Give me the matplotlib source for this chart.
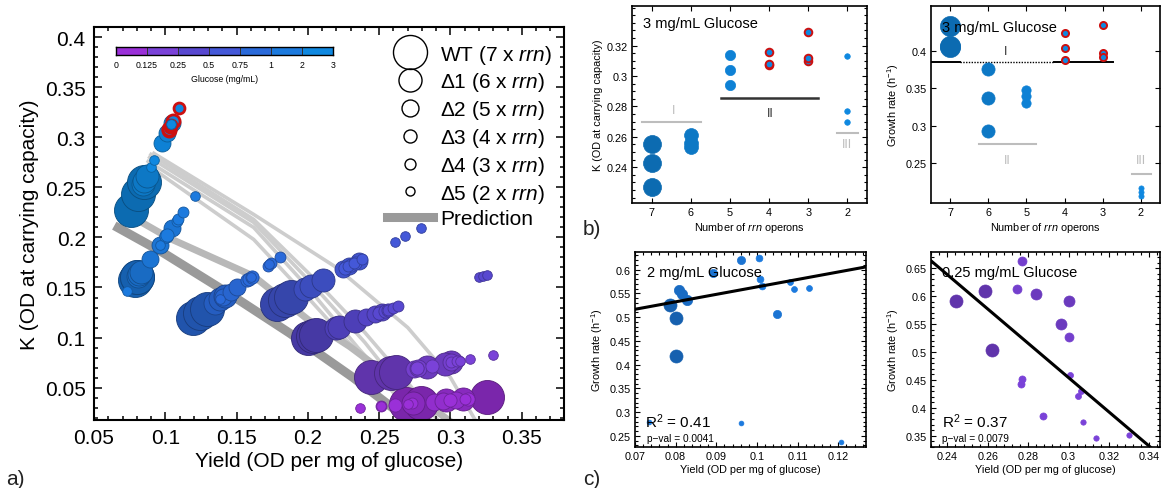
import numpy as np
import matplotlib
matplotlib.use("Agg")
import matplotlib.pyplot as plt
from matplotlib.lines import Line2D
from matplotlib.colors import to_rgb, ListedColormap
from matplotlib.ticker import MultipleLocator

plt.rcParams["font.family"] = ["Liberation Sans", "DejaVu Sans"]
plt.rcParams["mathtext.fontset"] = "custom"
plt.rcParams["mathtext.rm"] = "Liberation Sans"
plt.rcParams["mathtext.it"] = "Liberation Sans:italic"
plt.rcParams["mathtext.bf"] = "Liberation Sans:bold"

# ---------------------------------------------------------------- data
strains = ["WT", "Δ1", "Δ2", "Δ3", "Δ4", "Δ5"]
rrn_copies = [7, 6, 5, 4, 3, 2]
glucose_levels = [0.125, 0.25, 0.5, 0.75, 1, 2, 3]
glucose_tick_labels = ["0", "0.125", "0.25", "0.5", "0.75", "1", "2", "3"]
glucose_colors = ["#9a30d8", "#7a42d8", "#5848d0", "#4458d8",
                  "#2a6ada", "#1c7ade", "#0f88e0"]

# yield (OD per mg glucose), rows = strains WT..Δ5, 3 replicates each
yield_g0125 = [[0.2685, 0.2795, 0.3255], [0.2740, 0.2970, 0.3087],
               [0.2881, 0.2947, 0.3040], [0.2608, 0.3000, 0.3122],
               [0.2515, 0.2732, 0.3099], [0.2363, 0.2515, 0.2700]]
yield_g025 = [[0.2441, 0.2586, 0.2619], [0.2837, 0.3002, 0.2961],
              [0.2747, 0.2769, 0.3004], [0.2763, 0.2768, 0.2872],
              [0.3007, 0.3060, 0.3049], [0.3070, 0.3134, 0.3301]]
yield_g05 = [[0.2000, 0.2035, 0.2060], [0.2200, 0.2215, 0.2330],
             [0.2410, 0.2470, 0.2520], [0.2500, 0.2540, 0.2560],
             [0.2560, 0.2600, 0.2630], [0.3200, 0.3230, 0.3253]]
yield_g075 = [[0.1780, 0.1840, 0.1880], [0.1980, 0.2020, 0.2105],
              [0.2246, 0.2290, 0.2358], [0.2260, 0.2300, 0.2330],
              [0.2280, 0.2320, 0.2380], [0.2610, 0.2680, 0.2795]]
yield_g1 = [[0.1195, 0.1242, 0.1289], [0.1350, 0.1385, 0.1420],
            [0.1406, 0.1460, 0.1504], [0.1570, 0.1588, 0.1609],
            [0.1718, 0.1744, 0.1801], [0.1387, 0.1600, 0.1730]]
yield_g2 = [[0.0786, 0.0801, 0.0802], [0.0807, 0.0815, 0.0827],
            [0.0893, 0.0960, 0.1048], [0.1006, 0.1008, 0.1012],
            [0.1080, 0.1090, 0.1127], [0.0734, 0.0960, 0.1207]]
yield_g3 = [[0.0760, 0.0810, 0.0850], [0.0843, 0.0853, 0.0870],
            [0.0980, 0.1013, 0.1047], [0.1023, 0.1027, 0.1053],
            [0.1033, 0.1040, 0.1097], [0.0900, 0.0923, 0.1043]]

# carrying capacity K (OD), same layout
k_g0125 = [[0.0336, 0.0349, 0.0407], [0.0343, 0.0371, 0.0386],
           [0.0360, 0.0368, 0.0380], [0.0326, 0.0375, 0.0390],
           [0.0314, 0.0342, 0.0387], [0.0295, 0.0314, 0.0338]]
k_g025 = [[0.0610, 0.0647, 0.0655], [0.0709, 0.0751, 0.0740],
          [0.0687, 0.0692, 0.0751], [0.0691, 0.0692, 0.0718],
          [0.0752, 0.0765, 0.0762], [0.0768, 0.0784, 0.0825]]
k_g05 = [[0.1000, 0.1018, 0.1030], [0.1100, 0.1108, 0.1165],
         [0.1205, 0.1235, 0.1260], [0.1250, 0.1270, 0.1280],
         [0.1280, 0.1300, 0.1315], [0.1600, 0.1615, 0.1627]]
k_g075 = [[0.1335, 0.1380, 0.1410], [0.1485, 0.1515, 0.1579],
          [0.1685, 0.1718, 0.1769], [0.1695, 0.1725, 0.1748],
          [0.1710, 0.1740, 0.1785], [0.1958, 0.2010, 0.2096]]
k_g1 = [[0.1195, 0.1242, 0.1289], [0.1350, 0.1385, 0.1420],
        [0.1406, 0.1460, 0.1504], [0.1570, 0.1588, 0.1609],
        [0.1718, 0.1744, 0.1801], [0.1387, 0.1600, 0.1730]]
k_g2 = [[0.1572, 0.1602, 0.1604], [0.1614, 0.1630, 0.1654],
        [0.1786, 0.1920, 0.2096], [0.2012, 0.2016, 0.2024],
        [0.2160, 0.2180, 0.2254], [0.1468, 0.1920, 0.2414]]
k_g3 = [[0.227, 0.243, 0.255], [0.253, 0.256, 0.261],
        [0.294, 0.304, 0.314], [0.307, 0.308, 0.316],
        [0.310, 0.312, 0.329], [0.270, 0.277, 0.313]]

yields_by_glucose = [yield_g0125, yield_g025, yield_g05, yield_g075,
                     yield_g1, yield_g2, yield_g3]
k_by_glucose = [k_g0125, k_g025, k_g05, k_g075, k_g1, k_g2, k_g3]

# growth rates (1/h)
growth_g3 = [[0.433, 0.4067, 0.4050], [0.3755, 0.3376, 0.2923],
             [0.348, 0.340, 0.3306], [0.4245, 0.4036, 0.3875],
             [0.4347, 0.3978, 0.392], [0.216, 0.2117, 0.2064]]
growth_g2 = [[0.525, 0.4986, 0.4175], [0.5565, 0.549, 0.535],
             [0.593, 0.6196, 0.5074], [0.6245, 0.581, 0.565],
             [0.574, 0.560, 0.5614], [0.279, 0.278, 0.2374]]
growth_g025 = [[0.5906, 0.6096, 0.5038], [0.6037, 0.5918, 0.5502],
               [0.6126, 0.6631, 0.5276], [0.4420, 0.4524, 0.3856],
               [0.4580, 0.4296, 0.4212], [0.3750, 0.3464, 0.3523]]

# regression lines (growth rate vs yield)
fit_g2_slope, fit_g2_intercept = 1.57, 0.4066
fit_g025_slope, fit_g025_intercept = -3.07, 1.3752

# model predictions of K vs yield
pred_dark_yield = [0.067, 0.0985, 0.1476, 0.1872, 0.2316, 0.272]
pred_dark_k = [0.2096, 0.1847, 0.1412, 0.1044, 0.0601, 0.016]
pred_mid_yield = [0.0805, 0.1032, 0.162, 0.200, 0.2293, 0.300]
pred_mid_k = [0.2175, 0.1990, 0.1613, 0.118, 0.091, 0.016]
pred_light_yield = [[0.092, 0.162, 0.220, 0.270, 0.300, 0.318],
                    [0.090, 0.162, 0.200, 0.240, 0.270, 0.292],
                    [0.089, 0.162, 0.200, 0.240, 0.265, 0.287],
                    [0.088, 0.162, 0.200, 0.235, 0.260, 0.282],
                    [0.088, 0.162, 0.200, 0.235, 0.258, 0.278]]
pred_light_k = [[0.284, 0.223, 0.170, 0.110, 0.060, 0.016],
                [0.283, 0.218, 0.165, 0.105, 0.055, 0.016],
                [0.280, 0.215, 0.158, 0.095, 0.050, 0.016],
                [0.276, 0.210, 0.150, 0.090, 0.050, 0.016],
                [0.272, 0.198, 0.140, 0.085, 0.048, 0.016]]

# ---------------------------------------------------------------- style
strain_shade = [0.79, 0.88, 0.95, 1.0, 1.0, 1.0]
size_a = [600, 275, 150, 90, 62, 48]
legend_ms = [24.5, 16.6, 12.2, 9.4, 7.9, 6.5]
size_b = [168, 100, 55, 30, 30, 16]
size_b2 = [210, 90, 45, 26, 26, 14]
size_c1 = [88, 55, 35, 24, 18, 12]
size_c2 = [88, 63, 42, 26, 19, 15]
ring_red = "#cc1010"


def shade(color, f):
    return tuple(np.clip(np.array(to_rgb(color)) * f, 0, 1))


W, H = 1161, 489
fig = plt.figure(figsize=(W / 100, H / 100), dpi=100)


def px_axes(left, top, right, bottom):
    return fig.add_axes([left / W, 1 - bottom / H, (right - left) / W,
                         (bottom - top) / H])


def style_small(ax):
    for s in ax.spines.values():
        s.set_linewidth(1.2)
    ax.tick_params(which="both", direction="in", top=True, right=True,
                   labelsize=7.8, width=0.8, pad=3)
    ax.tick_params(which="major", length=3.5)
    ax.tick_params(which="minor", length=2)


# ---------------------------------------------------------------- panel a
ax = px_axes(94, 28, 564, 421)
for xs, ks in zip(pred_light_yield, pred_light_k):
    ax.plot(xs, ks, color="#cdcdcd", lw=2.6, zorder=1)
ax.plot(pred_mid_yield, pred_mid_k, color="#b8b8b8", lw=5, zorder=1.1)
ax.plot(pred_dark_yield, pred_dark_k, color="#9a9a9a", lw=6.5, zorder=1.2)

for si in range(len(strains)):
    for gi, g in enumerate(glucose_levels):
        face = shade(glucose_colors[gi], strain_shade[si])
        edge = shade(glucose_colors[gi], strain_shade[si] * 0.72)
        lw = 0.6
        if g == 3 and si in (3, 4):
            edge, lw = ring_red, 2.0
        ax.scatter(yields_by_glucose[gi][si], k_by_glucose[gi][si],
                   s=size_a[si], c=[face], edgecolors=[edge],
                   linewidths=lw, zorder=2 + si)

ax.set_xlim(0.05, 0.3796)
ax.set_ylim(0.0176, 0.4103)
ax.set_xticks([0.05, 0.1, 0.15, 0.2, 0.25, 0.3, 0.35])
ax.set_xticklabels(["0.05", "0.1", "0.15", "0.2", "0.25", "0.3", "0.35"])
ax.set_yticks([0.05, 0.1, 0.15, 0.2, 0.25, 0.3, 0.35, 0.4])
ax.set_yticklabels(["0.05", "0.1", "0.15", "0.2", "0.25", "0.3", "0.35", "0.4"])
ax.xaxis.set_minor_locator(MultipleLocator(0.01))
ax.yaxis.set_minor_locator(MultipleLocator(0.01))
for s in ax.spines.values():
    s.set_linewidth(1.5)
ax.tick_params(which="both", direction="in", top=True, right=True,
               labelsize=15, width=1.1, pad=6)
ax.tick_params(which="major", length=6)
ax.tick_params(which="minor", length=3)
ax.set_xlabel("Yield (OD per mg of glucose)", fontsize=15, labelpad=3)
ax.set_ylabel("K (OD at carrying capacity)", fontsize=15, labelpad=4)

handles = [Line2D([], [], ls="none", marker="o", mfc="none", mec="k",
                  mew=1.0, ms=legend_ms[i]) for i in range(6)]
handles.append(Line2D([], [], color="#9a9a9a", lw=6.5))
labels = [f"{strains[i]} ({rrn_copies[i]} x $\\mathit{{rrn}}$)" for i in range(6)]
labels.append("Prediction")
ax.legend(handles, labels, loc="upper right", bbox_to_anchor=(1.002, 0.992),
          frameon=False, fontsize=15, labelspacing=0.23, handlelength=2.2,
          handletextpad=0.35, borderaxespad=0.3, borderpad=0.3)

cax = ax.inset_axes([0.047, 0.929, 0.462, 0.021])
cax.pcolormesh(np.arange(8), [0, 1], np.arange(7).reshape(1, 7),
               cmap=ListedColormap(glucose_colors), edgecolors="#333333",
               linewidth=0.5)
cax.set_xlim(0, 7)
cax.set_xticks(np.arange(8))
cax.set_xticklabels(glucose_tick_labels, fontsize=6.3)
cax.set_yticks([])
cax.tick_params(length=0, pad=4)
cax.set_xlabel("Glucose (mg/mL)", fontsize=6.3, labelpad=3)
for s in cax.spines.values():
    s.set_linewidth(1.0)

# ---------------------------------------------------------------- panel b (K)
axb = px_axes(632, 7, 867, 204)
for si, n in enumerate(rrn_copies):
    face = shade(glucose_colors[6], strain_shade[si])
    edge, lw = (ring_red, 1.4) if si in (3, 4) else (face, 0.5)
    axb.scatter([n] * 3, k_g3[si], s=size_b[si], c=[face], edgecolors=[edge],
                linewidths=lw, zorder=3)
axb.plot([7.24, 5.75], [0.270, 0.270], color="#bdbdbd", lw=1.5)
axb.plot([5.24, 2.75], [0.2854, 0.2854], color="#333333", lw=1.8)
axb.plot([2.26, 1.74], [0.2626, 0.2626], color="#bdbdbd", lw=1.5)
axb.text(6.45, 0.2775, "I", color="#bdbdbd", ha="center", va="center", fontsize=9)
axb.text(3.96, 0.2755, "II", color="#333333", ha="center", va="center", fontsize=9)
axb.text(2.0, 0.2553, "III", color="#bdbdbd", ha="center", va="center", fontsize=9)
axb.set_xlim(7.5, 1.5)
axb.set_ylim(0.2165, 0.346)
axb.set_xticks(rrn_copies)
axb.set_yticks([0.24, 0.26, 0.28, 0.3, 0.32])
axb.set_yticklabels(["0.24", "0.26", "0.28", "0.3", "0.32"])
axb.yaxis.set_minor_locator(MultipleLocator(0.005))
style_small(axb)
axb.set_xlabel("Number of $\\mathit{rrn}$ operons", fontsize=7.8, labelpad=2)
axb.set_ylabel("K (OD at carrying capacity)", fontsize=7.8, labelpad=3)
axb.text(0.045, 0.915, "3 mg/mL Glucose", transform=axb.transAxes,
         fontsize=10.5, va="center", zorder=5)

# ---------------------------------------------------------------- panel b (growth)
axg = px_axes(931, 7, 1160, 204)
for si, n in enumerate(rrn_copies):
    face = shade(glucose_colors[6], strain_shade[si])
    edge, lw = (ring_red, 1.4) if si in (3, 4) else (face, 0.5)
    axg.scatter([n] * 3, growth_g3[si], s=size_b2[si], c=[face],
                edgecolors=[edge], linewidths=lw, zorder=3)
axg.plot([7.48, 6.74], [0.385, 0.385], color="k", lw=1.4)
axg.plot([6.74, 4.28], [0.385, 0.385], color="k", lw=1.0, ls=(0, (1, 1)))
axg.plot([4.28, 2.72], [0.385, 0.385], color="k", lw=1.4)
axg.plot([6.24, 4.75], [0.2754, 0.2754], color="#bdbdbd", lw=1.5)
axg.plot([2.24, 1.74], [0.2358, 0.2358], color="#bdbdbd", lw=1.5)
axg.text(5.55, 0.400, "I", color="#333333", ha="center", va="center", fontsize=9)
axg.text(5.5, 0.254, "II", color="#bdbdbd", ha="center", va="center", fontsize=9)
axg.text(2.0, 0.254, "III", color="#bdbdbd", ha="center", va="center", fontsize=9)
axg.set_xlim(7.5, 1.5)
axg.set_ylim(0.1966, 0.46)
axg.set_xticks(rrn_copies)
axg.set_yticks([0.25, 0.3, 0.35, 0.4])
axg.set_yticklabels(["0.25", "0.3", "0.35", "0.4"])
style_small(axg)
axg.set_xlabel("Number of $\\mathit{rrn}$ operons", fontsize=7.8, labelpad=2)
axg.set_ylabel("Growth rate (h$^{-1}$)", fontsize=7.8, labelpad=3)
axg.text(0.047, 0.893, "3 mg/mL Glucose", transform=axg.transAxes,
         fontsize=10.5, va="center", zorder=5)

# ---------------------------------------------------------------- panel c (2 mg/mL)
axc1 = px_axes(635, 253, 866, 448)
for si in range(len(strains)):
    face = shade(glucose_colors[5], strain_shade[si])
    axc1.scatter(yield_g2[si], growth_g2[si], s=size_c1[si], c=[face],
                 edgecolors=[face], linewidths=0.5, zorder=3)
axc1.set_xlim(0.07, 0.1268)
axc1.set_ylim(0.2268, 0.637)
xx = np.array(axc1.get_xlim())
axc1.plot(xx, fit_g2_intercept + fit_g2_slope * xx, color="k", lw=2.2, zorder=4)
axc1.set_xticks([0.07, 0.08, 0.09, 0.1, 0.11, 0.12])
axc1.set_xticklabels(["0.07", "0.08", "0.09", "0.1", "0.11", "0.12"])
axc1.set_yticks([0.25, 0.3, 0.35, 0.4, 0.45, 0.5, 0.55, 0.6])
axc1.set_yticklabels(["0.25", "0.3", "0.35", "0.4", "0.45", "0.5", "0.55", "0.6"])
axc1.xaxis.set_minor_locator(MultipleLocator(0.002))
axc1.yaxis.set_minor_locator(MultipleLocator(0.01))
style_small(axc1)
axc1.set_xlabel("Yield (OD per mg of glucose)", fontsize=7.8, labelpad=2)
axc1.set_ylabel("Growth rate (h$^{-1}$)", fontsize=7.8, labelpad=3)
axc1.text(0.05, 0.897, "2 mg/mL Glucose", transform=axc1.transAxes,
          fontsize=10.5, va="center", zorder=5)
axc1.text(0.043, 0.135, "R$^2$ = 0.41", transform=axc1.transAxes,
          fontsize=11, va="center", zorder=5)
axc1.text(0.05, 0.045, "p−val = 0.0041", transform=axc1.transAxes,
          fontsize=7.3, va="center", zorder=5)

# ---------------------------------------------------------------- panel c (0.25 mg/mL)
axc2 = px_axes(931, 253, 1160, 448)
for si in range(len(strains)):
    face = shade(glucose_colors[1], strain_shade[si])
    axc2.scatter(yield_g025[si], growth_g025[si], s=size_c2[si], c=[face],
                 edgecolors=[face], linewidths=0.5, zorder=3)
axc2.set_xlim(0.2319, 0.3453)
axc2.set_ylim(0.330, 0.679)
xx = np.array(axc2.get_xlim())
axc2.plot(xx, fit_g025_intercept + fit_g025_slope * xx, color="k", lw=2.2, zorder=4)
axc2.set_xticks([0.24, 0.26, 0.28, 0.3, 0.32, 0.34])
axc2.set_xticklabels(["0.24", "0.26", "0.28", "0.3", "0.32", "0.34"])
axc2.set_yticks([0.35, 0.4, 0.45, 0.5, 0.55, 0.6, 0.65])
axc2.set_yticklabels(["0.35", "0.4", "0.45", "0.5", "0.55", "0.6", "0.65"])
axc2.xaxis.set_minor_locator(MultipleLocator(0.004))
axc2.yaxis.set_minor_locator(MultipleLocator(0.01))
style_small(axc2)
axc2.set_xlabel("Yield (OD per mg of glucose)", fontsize=7.8, labelpad=2)
axc2.set_ylabel("Growth rate (h$^{-1}$)", fontsize=7.8, labelpad=3)
axc2.text(0.05, 0.898, "0.25 mg/mL Glucose", transform=axc2.transAxes,
          fontsize=10.5, va="center", zorder=5)
axc2.text(0.05, 0.135, "R$^2$ = 0.37", transform=axc2.transAxes,
          fontsize=11, va="center", zorder=5)
axc2.text(0.05, 0.045, "p−val = 0.0079", transform=axc2.transAxes,
          fontsize=7.3, va="center", zorder=5)

# ---------------------------------------------------------------- panel letters
fig.text(6 / W, 1 - 480 / H, "a)", fontsize=15, va="center", color="#222222")
fig.text(583 / W, 1 - 230 / H, "b)", fontsize=15, va="center", color="#222222")
fig.text(583 / W, 1 - 480 / H, "c)", fontsize=15, va="center", color="#222222")

fig.savefig("out.png", dpi=100)
